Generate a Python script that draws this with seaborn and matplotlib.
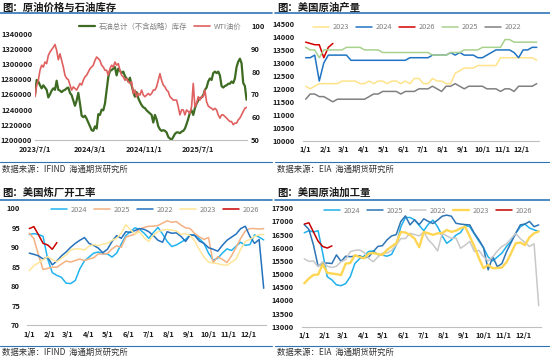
import matplotlib
matplotlib.use("Agg")
import matplotlib.pyplot as plt
import matplotlib.dates as mdates
from matplotlib.lines import Line2D
from matplotlib.ticker import FuncFormatter
import pandas as pd
import seaborn as sns

# ---- panel 1: inventory (left axis) vs WTI (right axis), weekly ----
inv_start, inv_end = "2023-07-01", "2026-02-03"
inventory_k = [
    1259, 1279, 1277, 1272, 1268, 1272, 1269, 1266, 1256, 1260, 1265, 1268, 1266, 1278, 1266, 1265,
    1263, 1265, 1266, 1268, 1269, 1262, 1259, 1252, 1245, 1252, 1262, 1248, 1232, 1230, 1232, 1228,
    1223, 1218, 1213, 1212, 1218, 1215, 1234, 1233, 1240, 1239, 1248, 1266, 1283, 1291, 1292, 1294,
    1296, 1285, 1294, 1291, 1288, 1290, 1284, 1281, 1277, 1282, 1272, 1263, 1257, 1263, 1255, 1250,
    1246, 1243, 1242, 1239, 1237, 1235, 1233, 1223, 1233, 1227, 1218, 1214, 1212, 1213, 1212, 1210,
    1204, 1202, 1200, 1204, 1208, 1210, 1210, 1209, 1211, 1212, 1215, 1221, 1228, 1236, 1239, 1233,
    1242, 1248, 1252, 1255, 1256, 1259, 1266, 1269, 1277, 1281, 1279, 1288, 1290, 1288, 1290, 1285,
    1271, 1269, 1271, 1272, 1274, 1274, 1277, 1275, 1281, 1296, 1303, 1307, 1301, 1275, 1271, 1253,
]
wti = [
    69.0, 74.1, 76.2, 80.6, 82.8, 82.0, 84.2, 83.5, 87.1, 88.6, 89.6, 90.7, 91.9, 89.3, 85.2, 87.8,
    84.9, 82.0, 78.4, 77.0, 76.5, 74.1, 71.9, 73.3, 72.6, 71.9, 73.3, 74.8, 74.1, 76.2, 77.7, 78.4,
    79.9, 81.3, 82.0, 82.8, 84.9, 86.4, 85.7, 84.9, 82.8, 82.0, 80.6, 80.6, 78.4, 81.3, 82.8, 82.0,
    84.2, 82.8, 83.5, 80.6, 78.4, 77.7, 76.2, 77.0, 75.5, 74.8, 75.5, 70.4, 71.9, 69.0, 70.4, 69.7,
    71.9, 69.7, 69.0, 69.7, 70.4, 69.7, 70.4, 71.9, 71.9, 73.3, 76.2, 79.1, 76.2, 74.1, 73.3, 71.9,
    71.2, 69.0, 68.3, 67.5, 67.5, 67.5, 64.6, 61.0, 63.2, 63.2, 61.0, 63.2, 62.5, 61.7, 64.6, 74.8,
    64.6, 66.1, 69.0, 67.5, 69.0, 69.0, 71.9, 66.8, 64.9, 64.3, 63.9, 63.2, 63.9, 63.2, 61.0, 59.6,
    61.0, 61.0, 60.3, 59.6, 58.8, 58.1, 58.1, 56.7, 57.4, 57.4, 58.8, 59.6, 61.0, 62.5, 63.9, 64.3,
]
p1_ticks = ["2023-07-01", "2024-03-01", "2024-11-01", "2025-07-01"]
p1_ticklabels = ["2023/7/1", "2024/3/1", "2024/11/1", "2025/7/1"]

# ---- panel 2: US crude production (kb/d), by week of year ----
prod_2022 = [11600, 11800, 11800, 11700, 11700, 11600, 11500, 11600, 11600, 11600, 11600, 11600, 11600,
             11600, 11700, 11800, 11800, 11900, 11900, 11900, 11900, 11800, 11900, 11900, 11900, 12000,
             12000, 12000, 12100, 12000, 11900, 12100, 12100, 12200, 12100, 12000, 12100, 12100, 12100,
             12100, 12000, 12000, 12000, 11900, 12000, 12000, 11900, 12100, 12100, 12100, 12100, 12200]
prod_2023 = [12100, 12000, 12100, 12200, 12200, 12200, 12200, 12200, 12300, 12300, 12300, 12300, 12200,
             12200, 12300, 12200, 12300, 12300, 12200, 12300, 12300, 12200, 12300, 12200, 12400, 12400,
             12200, 12200, 12400, 12300, 12300, 12200, 12200, 12600, 12700, 12800, 12800, 12800, 12900,
             12900, 12900, 12900, 12900, 13200, 13200, 13200, 13200, 13200, 13200, 13200, 13200, 13100]
prod_2024 = [13200, 13200, 13300, 12300, 13000, 13300, 13300, 13300, 13300, 13300, 13100, 13100, 13100,
             13100, 13100, 13100, 13100, 13100, 13100, 13100, 13100, 13100, 13100, 13200, 13200, 13200,
             13200, 13200, 13300, 13300, 13300, 13300, 13400, 13300, 13400, 13300, 13300, 13300, 13200,
             13200, 13300, 13400, 13500, 13500, 13500, 13500, 13400, 13200, 13500, 13500, 13600, 13600]
prod_2025 = [13600, 13500, 13500, 13200, 13500, 13500, 13500, 13500, 13500, 13600, 13600, 13600, 13600,
             13500, 13500, 13500, 13500, 13400, 13400, 13400, 13400, 13400, 13400, 13400, 13400, 13400,
             13400, 13400, 13300, 13300, 13300, 13300, 13400, 13400, 13400, 13500, 13500, 13500, 13500,
             13600, 13600, 13600, 13600, 13600, 13900, 13900, 13800, 13800, 13800, 13800, 13800, 13800]
prod_2026 = [13800, 13750, 13700, 13700, 13200, 13600, 13750]

# ---- panel 3: US refinery utilization (%) ----
util_2022 = [88.5, 88.2, 87.8, 87.0, 87.5, 85.5, 86.5, 87.8, 88.8, 90.0, 91.0, 91.8, 92.5, 91.0, 90.5,
             89.8, 88.6, 89.5, 91.5, 93.0, 92.3, 94.0, 93.8, 94.3, 94.8, 94.6, 94.0, 93.0, 91.8, 91.3,
             94.0, 93.6, 93.7, 92.8, 91.5, 93.2, 93.0, 91.6, 91.0, 89.9, 89.5, 89.0, 90.5, 91.8, 92.6,
             93.4, 94.8, 95.4, 92.8, 91.0, 92.0, 79.5]
util_2023 = [84.0, 85.3, 86.0, 86.8, 87.6, 86.8, 86.3, 87.2, 88.0, 89.3, 89.6, 89.6, 89.3, 90.3, 90.7,
             90.4, 90.8, 91.0, 91.8, 92.3, 93.6, 95.8, 94.5, 93.4, 94.0, 92.4, 91.5, 93.2, 94.0, 94.4,
             94.6, 94.4, 94.2, 93.3, 93.5, 93.0, 91.6, 89.4, 87.5, 86.2, 86.0, 85.8, 85.5, 85.4, 86.2,
             87.0, 89.5, 91.5, 92.0, 92.8, 93.2, 93.3]
util_2024 = [93.3, 93.5, 93.3, 92.8, 87.0, 83.5, 82.8, 82.3, 80.8, 80.7, 81.5, 84.5, 86.5, 87.5, 88.5,
             88.8, 88.4, 88.3, 87.5, 88.5, 90.8, 93.0, 94.0, 95.0, 94.6, 93.6, 92.3, 93.8, 95.1, 93.4,
             91.5, 90.2, 90.6, 91.3, 92.0, 93.2, 93.2, 92.2, 91.0, 88.5, 86.7, 87.2, 88.5, 89.6, 89.2,
             90.3, 91.3, 90.5, 90.7, 93.2, 92.6, 91.9]
util_2025 = [93.6, 92.2, 88.0, 84.3, 84.6, 84.9, 84.9, 85.7, 86.5, 86.2, 86.6, 87.0, 86.6, 87.0, 87.3,
             88.3, 88.3, 88.4, 89.6, 90.4, 90.0, 92.6, 93.0, 93.4, 94.7, 95.1, 95.4, 95.4, 95.6, 96.2,
             96.8, 96.4, 96.6, 95.7, 95.0, 94.8, 93.5, 92.7, 92.0, 92.5, 86.0, 87.6, 86.9, 86.1, 87.8,
             90.0, 92.3, 94.2, 94.8, 94.8, 94.7, 94.8]
util_2026 = [94.8, 95.3, 93.2, 91.0, 90.6, 89.5, 91.2]

# ---- panel 4: US crude refinery inputs (kb/d) ----
runs_2022 = [15580, 15480, 15500, 15280, 15470, 15300, 15250, 15300, 15470, 15550, 15850, 15900, 15920,
             15820, 15600, 15470, 15650, 15800, 15800, 15900, 16100, 16350, 16350, 16550, 16500, 16450,
             16600, 16300, 16120, 15880, 16550, 16450, 16360, 16370, 15980, 16100, 16240, 15860, 15900,
             15660, 15500, 15650, 15880, 16050, 16150, 16350, 16550, 16350, 16200, 16050, 16150, 13800]
runs_2023 = [14650, 14830, 14970, 14980, 15370, 15050, 15020, 15000, 14960, 15400, 15420, 15720, 15650,
             15600, 15780, 15800, 15760, 15730, 15920, 16050, 16170, 16600, 16580, 16490, 16350, 16020,
             16600, 16550, 16490, 16550, 16560, 16680, 16600, 16650, 16740, 16800, 16430, 16050, 15600,
             15220, 15350, 15220, 15230, 15250, 15450, 15800, 16170, 16200, 16100, 16400, 16550, 16620]
runs_2024 = [16570, 16650, 16600, 16650, 15800, 14900, 14780, 14590, 14560, 14640, 14900, 15400, 15580,
             15680, 15860, 15880, 15740, 15720, 15680, 15750, 16100, 16800, 17150, 17150, 17060, 16850,
             16650, 16900, 17050, 16800, 16450, 16170, 16300, 16480, 16580, 16850, 16800, 16520, 16250,
             16000, 15650, 15500, 15650, 15800, 16050, 16250, 16550, 16800, 16900, 16750, 16680, 16620]
runs_2025 = [16880, 16700, 16100, 15300, 15400, 15420, 15400, 15730, 15480, 15680, 15660, 15680, 15700,
             15620, 15650, 15850, 16050, 16080, 16300, 16450, 16500, 17000, 17210, 16870, 17060, 16880,
             17100, 17000, 16920, 17050, 17200, 17240, 17200, 16930, 16900, 16880, 16870, 16550, 16300,
             16000, 15160, 15660, 15280, 15400, 15850, 16200, 16550, 16870, 16900, 17000, 16800, 16870]
runs_2026 = [16900, 16950, 16600, 16250, 16050, 15990, 16070]

TXT = "#1A1A1A"
LEG = "#7F7F7F"
BLUE_RULE = "#2E75B6"
W, H = 550, 359

sns.set_theme(style="white")
plt.rcParams["font.family"] = ["Noto Sans CJK SC", "DejaVu Sans"]

fig = plt.figure(figsize=(W / 100, H / 100), dpi=100)
plain = FuncFormatter(lambda v, p: f"{v:.0f}")


def px_axes(x0, y0, x1, y1):
    return fig.add_axes([x0 / W, 1 - y1 / H, (x1 - x0) / W, (y1 - y0) / H])


def style_axes(ax, ypad):
    for s in ["left", "right", "top"]:
        ax.spines[s].set_visible(False)
    ax.spines["bottom"].set_color("#BFBFBF")
    ax.spines["bottom"].set_linewidth(0.8)
    ax.tick_params(axis="y", length=0, labelsize=5.4, labelcolor=TXT, pad=ypad)
    ax.tick_params(axis="x", length=2, width=0.6, color="#BFBFBF", labelsize=5.4,
                   labelcolor=TXT, pad=2)
    ax.yaxis.set_major_formatter(plain)
    for lab in ax.get_xticklabels() + ax.get_yticklabels():
        lab.set_fontweight("bold")
    ax.set_xlabel("")
    ax.set_ylabel("")
    ax.grid(False)


def frame(x0, x1, y_title, y_rule, y_src_rule, y_src, title, source):
    fig.text(x0 / W, 1 - y_title / H, title, fontsize=7.5, fontweight="bold",
             color=TXT, va="center", ha="left")
    fig.add_artist(Line2D([x0 / W - 0.003, x1 / W], [1 - y_rule / H] * 2,
                          color=BLUE_RULE, lw=1.2))
    fig.add_artist(Line2D([x0 / W - 0.003, x1 / W], [1 - y_src_rule / H] * 2,
                          color=BLUE_RULE, lw=0.8))
    fig.text(x0 / W, 1 - y_src / H, source, fontsize=6, color="#333333", va="center", ha="left")


def legend_at(ax, handles, labels, cx, cy):
    ax.legend(handles, labels, loc="center", bbox_to_anchor=(cx / W, 1 - cy / H),
              bbox_transform=fig.transFigure, ncol=len(labels), frameon=False,
              fontsize=5.3, labelcolor=LEG, handlelength=2.2, handletextpad=0.5,
              columnspacing=0.9, borderaxespad=0)


week_dates = pd.date_range("2023-01-01", periods=52, freq="7D")
month_fmt = FuncFormatter(lambda v, p: f"{mdates.num2date(v).month}/1")


def seasonal(ax, series, colors, widths):
    for yr, vals in series.items():
        df = pd.DataFrame({"date": week_dates[:len(vals)], "value": vals})
        sns.lineplot(data=df, x="date", y="value", ax=ax, color=colors[yr],
                     linewidth=widths.get(yr, 1.1), label=yr)
    ax.xaxis.set_major_locator(mdates.MonthLocator())
    ax.xaxis.set_major_formatter(month_fmt)
    ax.set_xlim(week_dates[0] - pd.Timedelta(days=3.5), week_dates[-1] + pd.Timedelta(days=3.5))


# ---------------- panel 1 ----------------
ax1 = px_axes(35, 26, 247, 140)
inv_dates = pd.date_range(inv_start, inv_end, periods=len(inventory_k))
df1 = pd.DataFrame({"date": inv_dates, "inventory": [v * 1000 for v in inventory_k], "wti": wti})
sns.lineplot(data=df1, x="date", y="inventory", ax=ax1, color="#3D6B22", linewidth=1.6,
             label="石油总计（不含战略）库存")
ax1b = ax1.twinx()
sns.lineplot(data=df1, x="date", y="wti", ax=ax1b, color="#E06060", linewidth=1.2, label="WTI油价")
ax1.set_ylim(1200000, 1350000)
ax1.set_yticks(range(1200000, 1340001, 20000))
ax1.set_xlim(pd.Timestamp(inv_start), pd.Timestamp("2026-02-05"))
ax1.set_xticks(pd.to_datetime(p1_ticks))
ax1.set_xticklabels(p1_ticklabels)
ax1b.set_ylim(50, 100)
ax1b.set_yticks(range(50, 101, 10))
style_axes(ax1, 2)
style_axes(ax1b, 3)
ax1b.spines["bottom"].set_visible(False)
h1, l1 = ax1.get_legend_handles_labels()
h2, l2 = ax1b.get_legend_handles_labels()
ax1b.get_legend().remove()
legend_at(ax1, h1 + h2, l1 + l2, 160, 27)
frame(2, 272, 8, 12.7, 161.7, 169.3, "图：原油价格与石油库存", "数据来源：IFIND  海通期货研究所")

# ---------------- panel 2 ----------------
ax2 = px_axes(303.4, 24, 539, 140.7)
seasonal(ax2,
         {"2023": prod_2023, "2024": prod_2024, "2026": prod_2026, "2025": prod_2025, "2022": prod_2022},
         {"2023": "#FFE38A", "2024": "#1F74C4", "2026": "#D40000", "2025": "#A9D18E", "2022": "#808080"},
         {})
ax2.set_ylim(10000, 14500)
ax2.set_yticks(range(10000, 14501, 500))
style_axes(ax2, 6)
h, l = ax2.get_legend_handles_labels()
legend_at(ax2, h, l, 417, 27.3)
frame(277, 550, 8, 12.7, 161.7, 169.3, "图：美国原油产量", "数据来源：EIA  海通期货研究所")

# ---------------- panel 3 ----------------
ax3 = px_axes(27, 208.3, 266, 325.3)
seasonal(ax3,
         {"2024": util_2024, "2025": util_2025, "2022": util_2022, "2023": util_2023, "2026": util_2026},
         {"2024": "#22B4F0", "2025": "#F4B183", "2022": "#2472BE", "2023": "#FFE699", "2026": "#C80000"},
         {})
ax3.set_ylim(70, 100)
ax3.set_yticks(range(70, 101, 5))
style_axes(ax3, 5)
h, l = ax3.get_legend_handles_labels()
legend_at(ax3, h, l, 155, 209.7)
frame(2, 272, 193, 199.7, 345.7, 352.3, "图：美国炼厂开工率", "数据来源：IFIND  海通期货研究所")

# ---------------- panel 4 ----------------
ax4 = px_axes(302, 208.3, 541, 326.7)
seasonal(ax4,
         {"2024": runs_2024, "2025": runs_2025, "2022": runs_2022, "2023": runs_2023, "2026": runs_2026},
         {"2024": "#1FB0EC", "2025": "#2E75B6", "2022": "#C8C8C8", "2023": "#FFD654", "2026": "#C80000"},
         {"2023": 1.7})
ax4.set_ylim(13000, 17500)
ax4.set_yticks(range(13000, 17501, 500))
style_axes(ax4, 6)
h, l = ax4.get_legend_handles_labels()
legend_at(ax4, h, l, 428, 210.7)
frame(277, 550, 193, 199.7, 345.7, 352.3, "图：美国原油加工量", "数据来源：EIA  海通期货研究所")

fig.savefig("out.png", dpi=100)
